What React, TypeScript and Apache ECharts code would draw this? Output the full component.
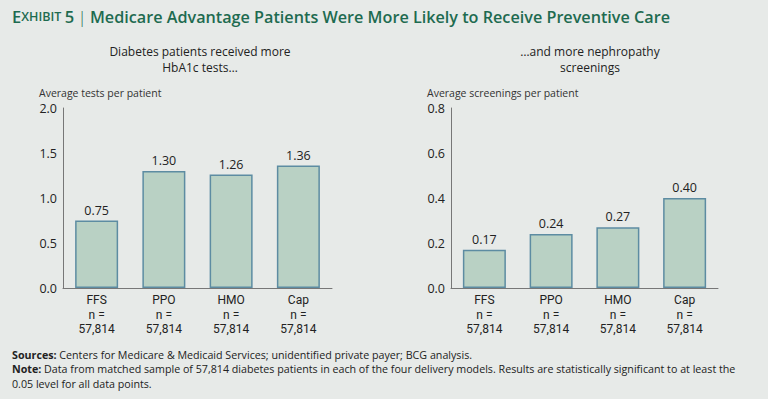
import React, { useEffect, useRef } from "react";
import * as echarts from "echarts";

const categories = ["FFS", "PPO", "HMO", "Cap"];
const sampleLabel = "n =\n57,814";
const hba1cValues = [0.75, 1.3, 1.26, 1.36];
const nephroValues = [0.17, 0.24, 0.27, 0.4];
const leftTicks = { min: 0, max: 2, interval: 0.5 };
const rightTicks = { min: 0, max: 0.8, interval: 0.2 };

const FONT = "'Open Sans', 'Noto Sans', sans-serif";
const LABEL_FONT = "Roboto, 'Open Sans', sans-serif";
const BG = "#e7eae8";
const FILL = "#b9d1c4";
const BORDER = "#5d8ca2";
const TEXT = "#222";
const GREEN = "#1e6b50";

export default function App() {
  const ref = useRef<HTMLDivElement>(null);
  useEffect(() => {
    if (!ref.current) return;
    const chart = echarts.init(ref.current, null, { renderer: "svg" });
    const xAxisBase = {
      type: "category" as const,
      data: categories,
      axisLine: { lineStyle: { color: "#777", width: 1 } },
      axisTick: { show: false },
      axisLabel: {
        color: TEXT,
        fontFamily: LABEL_FONT,
        fontSize: 12,
        lineHeight: 14.5,
        margin: 5,
        formatter: (v: string) => v + "\n" + sampleLabel,
      },
    };
    const yAxisBase = {
      type: "value" as const,
      axisLine: { show: true, lineStyle: { color: "#777", width: 1 } },
      axisTick: { show: false },
      splitLine: { show: false },
      axisLabel: {
        color: TEXT,
        fontFamily: FONT,
        fontSize: 12.5,
        margin: 6,
        formatter: (v: number) => v.toFixed(1),
      },
      nameLocation: "end" as const,
      nameGap: 10,
      nameTextStyle: {
        color: "#333",
        fontFamily: FONT,
        fontSize: 10.5,
        align: "left" as const,
        padding: [0, 0, 0, -24],
      },
    };
    const barBase = {
      type: "bar" as const,
      barWidth: 43,
      itemStyle: { color: FILL, borderColor: BORDER, borderWidth: 1.5 },
      label: {
        show: true,
        position: "top" as const,
        distance: 4,
        color: TEXT,
        fontFamily: FONT,
        fontSize: 12.5,
        formatter: (p: any) => Number(p.value).toFixed(2),
      },
    };
    const subStyle = {
      align: "center",
      fontSize: 12,
      lineHeight: 16.5,
      fill: TEXT,
      fontFamily: FONT,
    };
    chart.setOption({
      animation: false,
      backgroundColor: BG,
      textStyle: { fontFamily: FONT },
      grid: [
        { left: 63, right: 436, top: 108, bottom: 111 },
        { left: 451, right: 50, top: 108, bottom: 111 },
      ],
      xAxis: [
        { ...xAxisBase, gridIndex: 0 },
        { ...xAxisBase, gridIndex: 1 },
      ],
      yAxis: [
        { ...yAxisBase, gridIndex: 0, ...leftTicks, name: "Average tests per patient" },
        { ...yAxisBase, gridIndex: 1, ...rightTicks, name: "Average screenings per patient" },
      ],
      series: [
        { ...barBase, xAxisIndex: 0, yAxisIndex: 0, data: hba1cValues },
        { ...barBase, xAxisIndex: 1, yAxisIndex: 1, data: nephroValues },
      ],
      graphic: [
        {
          type: "text",
          left: 12,
          top: 8,
          style: {
            rich: {
              a: { fontSize: 16.5, fontWeight: 600, fill: GREEN, fontFamily: FONT },
              b: { fontSize: 12.5, fontWeight: 600, fill: GREEN, fontFamily: FONT },
              c: { fontSize: 17, fontWeight: 300, fill: GREEN, fontFamily: FONT },
              d: { fontSize: 16.2, fontWeight: 600, fill: GREEN, fontFamily: FONT },
            },
            text: "{a|E}{b|XHIBIT} {a|5} {c||} {d|Medicare Advantage Patients Were More Likely to Receive Preventive Care}",
          },
        },
        {
          type: "text",
          x: 200,
          y: 43,
          style: { ...subStyle, text: "Diabetes patients received more\nHbA1c tests…" },
        },
        {
          type: "text",
          x: 590,
          y: 43,
          style: { ...subStyle, text: "…and more nephropathy\nscreenings" },
        },
        {
          type: "text",
          left: 12,
          top: 349,
          style: {
            rich: {
              h: { fontSize: 10.7, fontWeight: 700, fill: TEXT, fontFamily: FONT, lineHeight: 14.5 },
              t: { fontSize: 10.7, fill: TEXT, fontFamily: FONT, lineHeight: 14.5 },
            },
            text:
              "{h|Sources:}{t| Centers for Medicare & Medicaid Services; unidentified private payer; BCG analysis.}\n" +
              "{h|Note:}{t| Data from matched sample of 57,814 diabetes patients in each of the four delivery models. Results are statistically significant to at least the}\n" +
              "{t|0.05 level for all data points.}",
          },
        },
      ],
    });
    return () => chart.dispose();
  }, []);
  return <div ref={ref} style={{ width: 768, height: 399, position: "absolute", left: 0, top: 0 }} />;
}
